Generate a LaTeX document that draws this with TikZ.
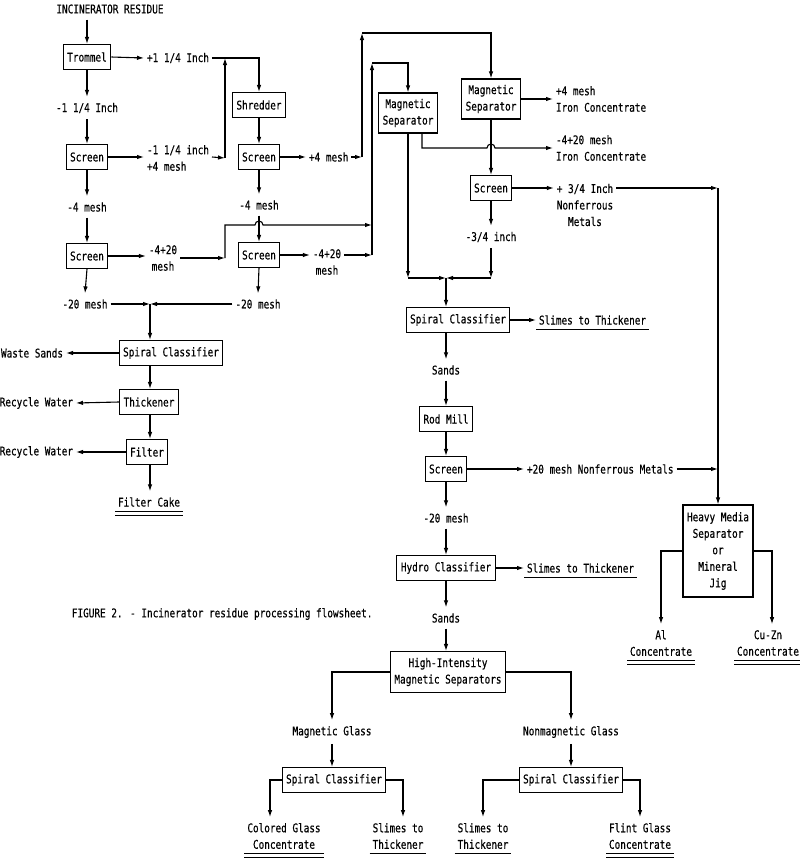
\documentclass[tikz,border=0pt]{standalone}
\usepackage{fontspec}
\setmainfont[FakeStretch=0.78,FakeBold=0.4]{DejaVu Sans Mono}
\usetikzlibrary{arrows.meta}

\begin{document}
\begin{tikzpicture}[x=1pt,y=-1pt,line width=1.1pt,
    font=\fontsize{12}{16.5}\selectfont,
    box/.style={draw,minimum height=25pt,inner xsep=4pt,inner ysep=3pt,align=center},
    lbl/.style={inner sep=1pt,outer xsep=2pt,outer ysep=5pt,align=center},
    flow/.style={-{Latex[length=7pt,width=4.5pt]}}]
    \useasboundingbox (0,0) rectangle (800,862);

    % Trommel y cribas
    \node[lbl] (src) at (110,9) {INCINERATOR RESIDUE};
    \node[box] (trom) at (87,57) {Trommel};
    \node[lbl,anchor=west] (t1) at (144,58) {+1 1/4 Inch};
    \node[lbl] (t2) at (87,108) {-1 1/4 Inch};
    \node[box] (scr1) at (87,157) {Screen};
    \node[lbl,anchor=west,align=left] (t3) at (144,158) {-1 1/4 inch\\+4 mesh};
    \node[lbl] (t4) at (87,207) {-4 mesh};
    \node[box] (scr2) at (87,256) {Screen};
    \node[lbl] (t5) at (163,258) {-4+20\\mesh};
    \node[lbl] (t6) at (85,304) {-20 mesh};
    \node[box] (shred) at (259,105) {Shredder};
    \node[box] (scr3) at (259,157) {Screen};
    \node[lbl,anchor=west] (t7) at (306,157) {+4 mesh};
    \node[lbl] (t8) at (259,205) {-4 mesh};
    \node[box] (scr4) at (259,255) {Screen};
    \node[lbl] (t9) at (327,262) {-4+20\\mesh};
    \node[lbl] (t10) at (258,304) {-20 mesh};

    % Finos
    \node[box] (scL) at (171,353) {Spiral Classifier};
    \node[lbl,anchor=east] (ws) at (66,353) {Waste Sands};
    \node[box] (thick) at (149,402) {Thickener};
    \node[lbl,anchor=east] (rw1) at (76,403) {Recycle Water};
    \node[box] (filt) at (147,452) {Filter};
    \node[lbl,anchor=east] (rw2) at (76,452) {Recycle Water};
    \node[lbl] (cake) at (149,502) {Filter Cake};

    % Separadores magneticos
    \node[box,minimum height=40pt] (mag1) at (408,113) {Magnetic\\Separator};
    \node[box,minimum height=40pt] (mag2) at (491,99) {Magnetic\\Separator};
    \node[lbl,anchor=west,align=left] (t11) at (553,99) {+4 mesh\\Iron Concentrate};
    \node[lbl,anchor=west,align=left] (t12) at (553,148) {-4+20 mesh\\Iron Concentrate};
    \node[box] (scr5) at (491,188) {Screen};
    \node[lbl] (t13) at (585,205) {+ 3/4 Inch\\Nonferrous\\Metals};
    \node[lbl] (t14) at (491,237) {-3/4 inch};

    % Columna central
    \node[box] (scR) at (458,320) {Spiral Classifier};
    \node[lbl,anchor=west] (slime1) at (536,320) {Slimes to Thickener};
    \node[lbl] (t15) at (446,370) {Sands};
    \node[box] (rod) at (446,419) {Rod Mill};
    \node[box] (scr6) at (446,469) {Screen};
    \node[lbl,anchor=west] (t17) at (524,469) {+20 mesh Nonferrous Metals};
    \node[lbl] (t16) at (446,518) {-20 mesh};
    \node[box] (hydro) at (446,568) {Hydro Classifier};
    \node[lbl,anchor=west] (slime2) at (524,568) {Slimes to Thickener};
    \node[lbl] (t18) at (446,618) {Sands};
    \node[box,minimum height=41pt] (hi) at (448,672) {High-Intensity\\Magnetic Separators};

    % Vidrio
    \node[lbl] (mg) at (332,732) {Magnetic Glass};
    \node[lbl] (nmg) at (571,732) {Nonmagnetic Glass};
    \node[box] (scBL) at (334,780) {Spiral Classifier};
    \node[box] (scBR) at (571,780) {Spiral Classifier};
    \node[lbl] (cg) at (284,836) {Colored Glass\\Concentrate};
    \node[lbl] (st1) at (398,836) {Slimes to\\Thickener};
    \node[lbl] (st2) at (483,836) {Slimes to\\Thickener};
    \node[lbl] (fg) at (640,836) {Flint Glass\\Concentrate};

    % Medio denso
    \node[box,minimum height=92pt] (hm) at (718,551) {Heavy Media\\Separator\\or\\Mineral\\Jig};
    \node[lbl] (al) at (661,643) {Al\\Concentrate};
    \node[lbl] (cz) at (768,643) {Cu-Zn\\Concentrate};

    \node[anchor=east,inner sep=0pt] (cap) at (373,614) {FIGURE 2. - Incinerator residue processing flowsheet.};

    % puntos de union
    \coordinate (c2) at (225,158);
    \coordinate (c3) at (225,258);
    \coordinate (b1) at (225,225);
    \coordinate (c4) at (372,225);
    \coordinate (c5) at (372,255);
    \coordinate (b2) at (372,63);
    \coordinate (c6) at (362,157);
    \coordinate (b3) at (362,33);
    \coordinate (j1) at (150,304);
    \coordinate (j2) at (446,278);
    \coordinate (c7) at (718,188);
    \coordinate (c10) at (718,469);

    % Lineas izquierda
    \draw[flow] (trom.north |- src.south) -- (trom.north);
    \draw[flow] (trom.east) -- (t1.west);
    \draw[flow] (t1.east) -| (shred.north);
    \draw[flow] (trom.south) -- (t2.north);
    \draw[flow] (t2.south) -- (scr1.north);
    \draw[flow] (scr1.east) -- (scr1.east -| t3.west);
    \draw[flow] (scr1.east -| t3.east) -- (c2);
    \draw[flow] (c2) -- (c2 |- t1.east);
    \draw[flow] (scr1.south) -- (t4.north);
    \draw[flow] (t4.south) -- (scr2.north);
    \draw[flow] (scr2.east) -- (scr2.east -| t5.west);
    \draw[flow] (t5.east) -- (c3);
    \draw[flow] (c3) -- (b1) -- ([xshift=-4pt]b1 -| scr4.north)
        arc[start angle=180,end angle=0,radius=4pt] -- (c4);
    \draw[flow] (scr2.south) -- (t6.north);
    \draw[flow] (shred.south) -- (scr3.north);
    \draw[flow] (scr3.east) -- (t7.west);
    \draw[flow] (scr3.south) -- (t8.north);
    \draw[flow] (t8.south) -- (scr4.north);
    \draw[flow] (scr4.east) -- (scr4.east -| t9.west);
    \draw[flow] (t9.east |- scr4.east) -- (c5);
    \draw[flow] (scr4.south) -- (t10.north);

    \draw[flow] (t6.east) -- (j1);
    \draw[flow] (t10.west) -- (j1);
    \draw[flow] (j1) -- (j1 |- scL.north);
    \draw[flow] (j1 |- scL.south) -- (j1 |- thick.north);
    \draw[flow] (j1 |- thick.south) -- (j1 |- filt.north);
    \draw[flow] (j1 |- filt.south) -- (j1 |- cake.north);
    \draw[flow] (scL.west) -- (ws.east);
    \draw[flow] (thick.west) -- (rw1.east);
    \draw[flow] (filt.west) -- (rw2.east);

    % Lineas separadores
    \draw[flow] (c5) -- (b2);
    \draw[flow] (b2) -| (mag1.north);
    \draw[flow] (t7.east) -- (c6);
    \draw[flow] (c6) -- (b3);
    \draw[flow] (b3) -| (mag2.north);
    \draw[flow] (mag2.east) -- (mag2.east -| t11.west);
    \draw[flow] ([xshift=14pt]mag1.south) |- ([xshift=-4pt]scr5.north |- t12.west)
        arc[start angle=180,end angle=0,radius=4pt] -- (t12.west);
    \draw[flow] (mag2.south) -- (scr5.north);
    \draw[flow] (scr5.east) -- (scr5.east -| t13.west);
    \draw[flow] (t13.east |- scr5.east) -- (c7);
    \draw[flow] (c7) -- (hm.north);
    \draw[flow] (scr5.south) -- (t14.north);
    \draw[flow] (t14.south) -- (t14.south |- j2);
    \draw[flow] (t14.south |- j2) -- (j2);
    \draw[flow] (mag1.south) -- (mag1.south |- j2);
    \draw[flow] (mag1.south |- j2) -- (j2);
    \draw[flow] (j2) -- (j2 |- scR.north);

    % Lineas centro
    \draw[flow] (scR.east) -- (slime1.west);
    \draw[flow] (j2 |- scR.south) -- (t15.north);
    \draw[flow] (t15.south) -- (rod.north);
    \draw[flow] (rod.south) -- (scr6.north);
    \draw[flow] (scr6.east) -- (t17.west);
    \draw[flow] (t17.east) -- (c10);
    \draw[flow] (scr6.south) -- (t16.north);
    \draw[flow] (t16.south) -- (hydro.north);
    \draw[flow] (hydro.east) -- (slime2.west);
    \draw[flow] (hydro.south) -- (t18.north);
    \draw[flow] (t18.south) -- (t18.south |- hi.north);

    % Lineas abajo
    \draw[flow] (hi.west) -| (mg.north);
    \draw[flow] (hi.east) -| (nmg.north);
    \draw[flow] (mg.south) -- (mg.south |- scBL.north);
    \draw[flow] (nmg.south) -- (scBR.north);
    \draw[flow] (scBL.west) -| ([xshift=-14pt]cg.north);
    \draw[flow] (scBL.east) -| ([xshift=5pt]st1.north);
    \draw[flow] (scBR.west) -| (st2.north);
    \draw[flow] (scBR.east) -| (fg.north);
    \draw[flow] (hm.west) -| (al.north);
    \draw[flow] (hm.east) -| ([xshift=4pt]cz.north);

    % Subrayados
    \foreach \n in {slime1,slime2,st1,st2}
        \draw ([yshift=1.5pt]\n.south west) -- ([yshift=1.5pt]\n.south east);
    \foreach \n in {cake,cg,fg,al,cz} {
        \draw ([yshift=1.5pt]\n.south west) -- ([yshift=1.5pt]\n.south east);
        \draw ([yshift=-2.5pt]\n.south west) -- ([yshift=-2.5pt]\n.south east);
    }
\end{tikzpicture}
\end{document}
